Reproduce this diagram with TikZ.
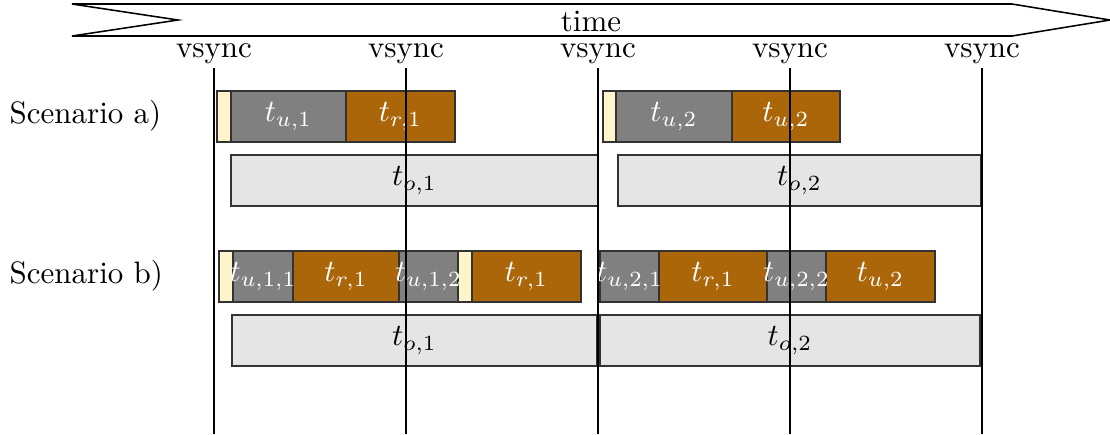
\documentclass[tikz,border=0pt]{standalone}
\usetikzlibrary{fit}
\definecolor{prepfill}{HTML}{FFF5CC}
\definecolor{updfill}{HTML}{808080}
\definecolor{rendfill}{HTML}{AC660A}
\definecolor{outfill}{HTML}{E5E5E5}
\begin{document}
\begin{tikzpicture}[x=0.3226pt,y=-0.3226pt,
  seg/.style={draw=black!80, line width=0.45pt, inner sep=0pt},
  pbox/.style={seg, fill=prepfill},
  ubox/.style={seg, fill=updfill},
  rbox/.style={seg, fill=rendfill},
  obox/.style={seg, fill=outfill},
  wlbl/.style={inner sep=0pt, text=white},
  blbl/.style={inner sep=0pt, text=black},
  vline/.style={line width=0.7pt},
  vlabel/.style={inner sep=0pt},
  rowlabel/.style={inner sep=0pt, anchor=west}]
\useasboundingbox (0,0) rectangle (1110,434);

% time axis
\draw[line width=0.5pt] (72,4) -- (1012,4) -- (1110,20) -- (1012,36) -- (72,36) -- (178,20) -- cycle;
\node (time) at (591,21) {time};

% row labels
\node[rowlabel] (sa) at (9,116) {Scenario a)};
\node[rowlabel] (sb) at (9,276) {Scenario b)};

% scenario a): boxes
\node[pbox, fit={(217,91)(231,142)}] (a1p) {};
\node[ubox, fit={(231,91)(346,142)}] (a1u) {};
\node[rbox, fit={(346,91)(455,142)}] (a1r) {};
\node[obox, fit={(231,155)(598,206)}] (a1o) {};
\node[pbox, fit={(603,91)(616,142)}] (a2p) {};
\node[ubox, fit={(616,91)(732,142)}] (a2u) {};
\node[rbox, fit={(732,91)(840,142)}] (a2r) {};
\node[obox, fit={(618,155)(981,206)}] (a2o) {};

% scenario b): boxes
\node[pbox, fit={(219,251)(233,302)}] (b1p) {};
\node[ubox, fit={(233,251)(293,302)}] (b1u) {};
\node[rbox, fit={(293,251)(399,302)}] (b1r) {};
\node[ubox, fit={(399,251)(458,302)}] (b1v) {};
\node[pbox, fit={(458,251)(472,302)}] (b1q) {};
\node[rbox, fit={(472,251)(581,302)}] (b1s) {};
\node[obox, fit={(232,315)(597,366)}] (b1o) {};
\node[ubox, fit={(600,251)(659,302)}] (b2u) {};
\node[rbox, fit={(659,251)(767,302)}] (b2r) {};
\node[ubox, fit={(767,251)(826,302)}] (b2v) {};
\node[rbox, fit={(826,251)(935,302)}] (b2s) {};
\node[obox, fit={(600,315)(980,366)}] (b2o) {};

% box labels
\node[wlbl] (la1u) at (a1u.center) {$t_{u,1}$};
\node[wlbl] (la1r) at (a1r.center) {$t_{r,1}$};
\node[blbl] (la1o) at (a1o.center) {$t_{o,1}$};
\node[wlbl] (la2u) at (a2u.center) {$t_{u,2}$};
\node[wlbl] (la2r) at (a2r.center) {$t_{u,2}$};
\node[blbl] (la2o) at (a2o.center) {$t_{o,2}$};
\node[wlbl] (lb1u) at (b1u.center) {$t_{u,1,1}$};
\node[wlbl] (lb1r) at (b1r.center) {$t_{r,1}$};
\node[wlbl] (lb1v) at (b1v.center) {$t_{u,1,2}$};
\node[wlbl] (lb1s) at (b1s.center) {$t_{r,1}$};
\node[blbl] (lb1o) at (b1o.center) {$t_{o,1}$};
\node[wlbl] (lb2u) at (b2u.center) {$t_{u,2,1}$};
\node[wlbl] (lb2r) at (b2r.center) {$t_{r,1}$};
\node[wlbl] (lb2v) at (b2v.center) {$t_{u,2,2}$};
\node[wlbl] (lb2s) at (b2s.center) {$t_{u,2}$};
\node[blbl] (lb2o) at (b2o.center) {$t_{o,2}$};

% vsync markers
\foreach \i/\x in {1/214,2/406,3/598,4/790,5/982}{
  \node[vlabel] (v\i) at (\x,54) {vsync};
  \coordinate (t\i) at (\x,68);
  \coordinate (e\i) at (\x,434);
  \draw[vline] (t\i) -- (e\i);
}
\end{tikzpicture}
\end{document}
